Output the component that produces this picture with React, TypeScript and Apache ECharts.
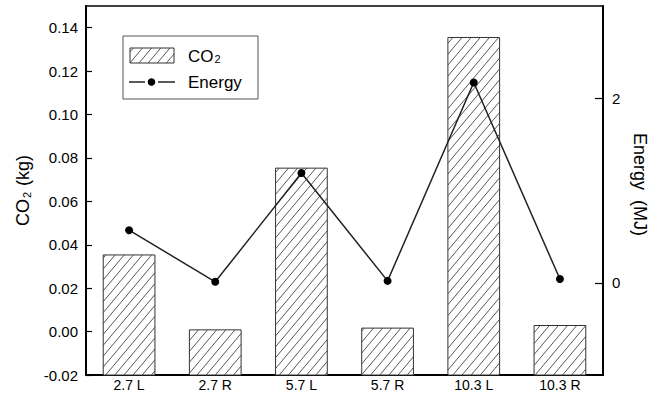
import React, { useEffect, useRef } from "react";
import * as echarts from "echarts";

// Cases along the x axis
const categories = ["2.7 L", "2.7 R", "5.7 L", "5.7 R", "10.3 L", "10.3 R"];
// CO2 emitted per case (kg)
const co2Values = [0.0353, 0.0008, 0.0753, 0.0016, 0.1355, 0.0028];
// Energy consumed per case (MJ)
const energyValues = [0.57, 0.01, 1.19, 0.02, 2.17, 0.04];
// Tick labels of the two value axes
const co2Ticks = [-0.02, 0.0, 0.02, 0.04, 0.06, 0.08, 0.1, 0.12, 0.14];
const energyTicks = [0, 2];

const CO2_MIN = -0.02;
const CO2_MAX = 0.15;
const ENERGY_MIN = -1;
const ENERGY_MAX = 3;

const FONT = "'Liberation Sans', Arial, sans-serif";
const HATCH_TAN = Math.tan((50 * Math.PI) / 180);
const HATCH_STEP = 7 * Math.sqrt(1 + HATCH_TAN * HATCH_TAN);

// Diagonal "///" hatch segments clipped to a rectangle
function hatchSegments(x0: number, y0: number, x1: number, y1: number) {
  const segs: number[][] = [];
  const t = HATCH_TAN;
  const sMin = x0 * t + y0;
  const sMax = x1 * t + y1;
  const kStart = Math.ceil(sMin / HATCH_STEP);
  for (let k = kStart; k * HATCH_STEP <= sMax; k++) {
    const s = k * HATCH_STEP;
    const xa = Math.max(x0, (s - y1) / t);
    const xb = Math.min(x1, (s - y0) / t);
    if (xb - xa > 0.3) {
      segs.push([xa, s - t * xa, xb, s - t * xb]);
    }
  }
  return segs;
}

function hatchedBox(x0: number, y0: number, x1: number, y1: number, silent: boolean) {
  const children: any[] = [
    {
      type: "rect",
      shape: { x: x0, y: y0, width: x1 - x0, height: y1 - y0 },
      style: { fill: "#fff", stroke: "#333", lineWidth: 1 },
      silent,
    },
  ];
  for (const [ax, ay, bx, by] of hatchSegments(x0, y0, x1, y1)) {
    children.push({
      type: "line",
      shape: { x1: ax, y1: ay, x2: bx, y2: by },
      style: { stroke: "#444", lineWidth: 0.9 },
      silent,
    });
  }
  return children;
}

export default function App() {
  const ref = useRef<HTMLDivElement>(null);

  useEffect(() => {
    if (!ref.current) return;
    const chart = echarts.init(ref.current, undefined, { renderer: "svg" });

    const legendX = 123;
    const legendY = 36;

    const option: any = {
      animation: false,
      backgroundColor: "#fff",
      textStyle: { fontFamily: FONT, color: "#000" },
      grid: {
        left: 86,
        right: 57,
        top: 6,
        bottom: 19,
        show: true,
        borderColor: "#000",
        borderWidth: 1.5,
        containLabel: false,
      },
      xAxis: {
        type: "category",
        data: categories,
        boundaryGap: true,
        axisLine: { show: true, onZero: false, lineStyle: { color: "#000", width: 2 } },
        axisTick: { show: false },
        axisLabel: { color: "#000", fontSize: 14, fontFamily: FONT, margin: 3 },
        splitLine: { show: false },
      },
      yAxis: [
        {
          type: "value",
          position: "left",
          min: CO2_MIN,
          max: CO2_MAX,
          interval: 0.02,
          name: "{a|CO}{s|2}{a| (kg)}",
          nameLocation: "middle",
          nameGap: 54,
          nameTextStyle: {
            fontFamily: FONT,
            rich: {
              a: { fontSize: 18, fontFamily: FONT, color: "#000" },
              s: { fontSize: 11, fontFamily: FONT, color: "#000", padding: [8, 1, 0, 1] },
            },
          },
          axisLine: { show: true, onZero: false, lineStyle: { color: "#000", width: 2 } },
          axisTick: {
            show: true,
            inside: true,
            length: 6,
            lineStyle: { color: "#000", width: 1.2 },
            customValues: co2Ticks,
          },
          axisLabel: {
            color: "#000",
            fontSize: 15,
            fontFamily: FONT,
            margin: 8,
            customValues: co2Ticks,
            formatter: (v: number) => v.toFixed(2),
          },
          splitLine: { show: false },
        },
        {
          type: "value",
          position: "right",
          min: ENERGY_MIN,
          max: ENERGY_MAX,
          name: "Energy  (MJ)",
          nameLocation: "middle",
          nameRotate: -90,
          nameGap: 22,
          nameTextStyle: { fontSize: 18, fontFamily: FONT, color: "#000", padding: [0, 12, 0, 0] },
          axisLine: { show: true, onZero: false, lineStyle: { color: "#000", width: 2 } },
          axisTick: {
            show: true,
            inside: true,
            length: 8,
            lineStyle: { color: "#000", width: 1.2 },
            customValues: energyTicks,
          },
          axisLabel: {
            color: "#000",
            fontSize: 15,
            fontFamily: FONT,
            margin: 9,
            customValues: energyTicks,
            formatter: (v: number) => String(v),
          },
          splitLine: { show: false },
        },
      ],
      series: [
        {
          name: "CO2",
          type: "custom",
          xAxisIndex: 0,
          yAxisIndex: 0,
          data: co2Values.map((v, i) => [i, v]),
          encode: { x: 0, y: 1 },
          renderItem: (params: any, api: any) => {
            const idx = api.value(0);
            const val = api.value(1);
            const topPt = api.coord([idx, val]);
            const basePt = api.coord([idx, CO2_MIN]);
            const bw = api.size([1, 0])[0] * 0.6;
            const x0 = topPt[0] - bw / 2;
            const x1 = topPt[0] + bw / 2;
            return {
              type: "group",
              children: hatchedBox(x0, topPt[1], x1, basePt[1], false),
            };
          },
          z: 2,
        },
        {
          name: "Energy",
          type: "line",
          xAxisIndex: 0,
          yAxisIndex: 1,
          data: energyValues,
          symbol: "circle",
          symbolSize: 8,
          lineStyle: { color: "#222", width: 1.5 },
          itemStyle: { color: "#000" },
          z: 5,
        },
      ],
      graphic: [
        {
          type: "group",
          z: 10,
          children: [
            {
              type: "rect",
              shape: { x: legendX, y: legendY, width: 135, height: 63 },
              style: { fill: "#fff", stroke: "#555", lineWidth: 1 },
            },
            ...hatchedBox(130, 48, 174, 63, true),
            {
              type: "text",
              x: 188,
              y: 56,
              style: {
                text: "{a|CO}{s|2}",
                verticalAlign: "middle",
                rich: {
                  a: { fontSize: 17, fontFamily: FONT, fill: "#000" },
                  s: { fontSize: 11, fontFamily: FONT, fill: "#000", padding: [6, 0, 0, 1] },
                },
              },
            },
            {
              type: "line",
              shape: { x1: 129, y1: 82, x2: 145, y2: 82 },
              style: { stroke: "#000", lineWidth: 1.3 },
            },
            {
              type: "line",
              shape: { x1: 158, y1: 82, x2: 175, y2: 82 },
              style: { stroke: "#000", lineWidth: 1.3 },
            },
            {
              type: "circle",
              shape: { cx: 151.5, cy: 82, r: 3.8 },
              style: { fill: "#000" },
            },
            {
              type: "text",
              x: 188,
              y: 82,
              style: {
                text: "Energy",
                fontSize: 17,
                fontFamily: FONT,
                fill: "#000",
                verticalAlign: "middle",
              },
            },
          ],
        },
      ],
    };

    chart.setOption(option);
    return () => {
      chart.dispose();
    };
  }, []);

  return (
    <div
      ref={ref}
      style={{ position: "fixed", left: 0, top: 0, width: 660, height: 394 }}
    />
  );
}
